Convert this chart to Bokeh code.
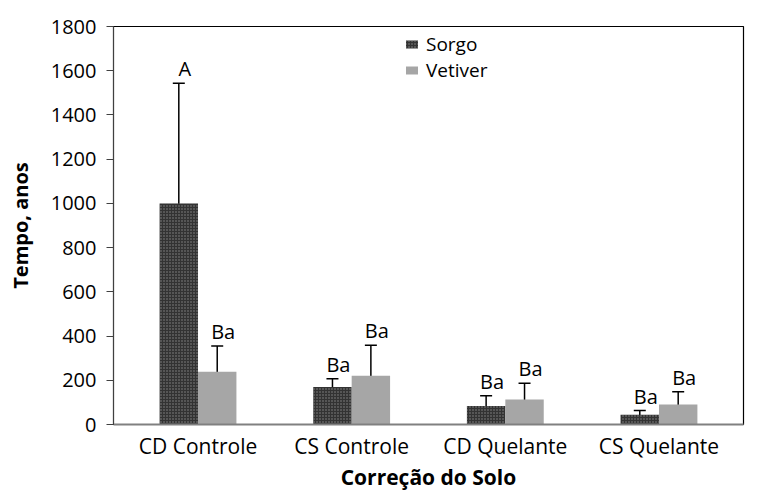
from bokeh.plotting import figure
from bokeh.models import ColumnDataSource, FactorRange, Whisker, TeeHead, Range1d, FixedTicker
from bokeh.transform import dodge
from bokeh.core.properties import value
from bokeh.embed import file_html
from bokeh.resources import INLINE

cats = ["CD Controle", "CS Controle", "CD Quelante", "CS Quelante"]
sorgo = [1000, 170, 84, 44]
sorgo_err = [543, 37, 46, 19]
vetiver = [239, 221, 113, 90]
vetiver_err = [116, 137, 74, 58]
sorgo_letters = ["A", "Ba", "Ba", "Ba"]
vetiver_letters = ["Ba", "Ba", "Ba", "Ba"]
y_ticks = [0, 200, 400, 600, 800, 1000, 1200, 1400, 1600, 1800]

FONT = "Open Sans"

src_s = ColumnDataSource(dict(
    cat=cats, val=sorgo, lo=[v - e for v, e in zip(sorgo, sorgo_err)],
    hi=[v + e for v, e in zip(sorgo, sorgo_err)], lab=sorgo_letters))
src_v = ColumnDataSource(dict(
    cat=cats, val=vetiver, lo=[v - e for v, e in zip(vetiver, vetiver_err)],
    hi=[v + e for v, e in zip(vetiver, vetiver_err)], lab=vetiver_letters))

p = figure(x_range=FactorRange(*cats, range_padding=0.05, range_padding_units="absolute"),
           y_range=Range1d(0, 1800), width=745, height=493,
           output_backend="svg", toolbar_location=None,
           min_border_left=113, min_border_right=2, min_border_top=26, min_border_bottom=60)

off = 0.125
p.vbar(x=dodge("cat", -off, range=p.x_range), top="val", width=0.25, source=src_s,
       fill_color="#333333", line_color=None, hatch_pattern="dot", hatch_color="#8a8a8a",
       hatch_scale=3, hatch_weight=1, legend_label="Sorgo")
p.vbar(x=dodge("cat", off, range=p.x_range), top="val", width=0.25, source=src_v,
       fill_color="#a6a6a6", line_color=None, legend_label="Vetiver")

for src, o in ((src_s, -off), (src_v, off)):
    w = Whisker(base=dodge("cat", o, range=p.x_range), lower="lo", upper="hi", source=src,
                line_color="black", line_width=1.5,
                upper_head=TeeHead(size=12, line_color="black", line_width=1.5),
                lower_head=TeeHead(size=12, line_color="black", line_width=1.5))
    p.add_layout(w)
    p.text(x=dodge("cat", o, range=p.x_range), y="hi", text="lab", source=src,
           text_font=value(FONT), text_font_size="20px", text_color="black",
           text_align="center", text_baseline="bottom", x_offset=6, y_offset=-1)

p.xgrid.visible = False
p.ygrid.visible = False
p.outline_line_color = "black"
p.outline_line_width = 1.2

p.yaxis.ticker = FixedTicker(ticks=y_ticks)
p.yaxis.major_label_text_font = FONT
p.yaxis.major_label_text_font_size = "20px"
p.yaxis.major_label_text_color = "black"
p.yaxis.axis_line_color = "#404040"
p.yaxis.major_tick_line_color = "#404040"
p.yaxis.major_tick_out = 7
p.yaxis.major_tick_in = 0
p.yaxis.minor_tick_line_color = None
p.yaxis.major_label_standoff = 10
p.yaxis.axis_label = "Tempo, anos"
p.yaxis.axis_label_text_font = FONT
p.yaxis.axis_label_text_font_style = "bold"
p.yaxis.axis_label_text_font_size = "20px"
p.yaxis.axis_label_text_color = "black"
p.yaxis.axis_label_standoff = 14

p.xaxis.axis_line_color = "#808080"
p.xaxis.axis_line_width = 2
p.xaxis.major_tick_line_color = None
p.xaxis.minor_tick_line_color = None
p.xaxis.major_label_text_font = FONT
p.xaxis.major_label_text_font_size = "21px"
p.xaxis.major_label_text_color = "black"
p.xaxis.major_label_standoff = 1
p.xaxis.axis_label = "Correção do Solo"
p.xaxis.axis_label_text_font = FONT
p.xaxis.axis_label_text_font_style = "bold"
p.xaxis.axis_label_text_font_size = "21px"
p.xaxis.axis_label_text_color = "black"
p.xaxis.axis_label_standoff = 0

lg = p.legend[0]
lg.location = (291, 341)
lg.border_line_color = None
lg.background_fill_alpha = 0
lg.padding = 0
lg.spacing = 0
lg.label_height = 20
lg.glyph_width = 15
lg.glyph_height = 10
lg.label_text_font = FONT
lg.label_text_font_size = "19px"
lg.label_text_color = "black"
lg.label_standoff = 7

open("out.html", "w").write(file_html(p, INLINE))
